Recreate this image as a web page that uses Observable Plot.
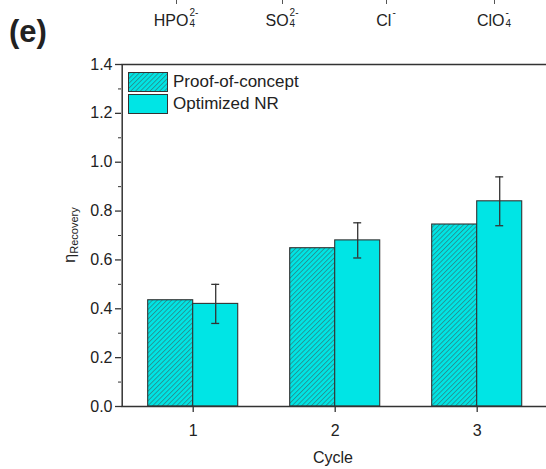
<!DOCTYPE html>
<html><head><meta charset="utf-8">
<script src="https://cdn.jsdelivr.net/npm/d3@7"></script>
<script src="https://cdn.jsdelivr.net/npm/@observablehq/plot@0.6"></script>
<style>
body{margin:0;background:#fff;font-family:Arial,"Liberation Sans",sans-serif;color:#222;}
#wrap{position:relative;width:546px;height:469px;overflow:hidden;}
#chart{position:absolute;left:0;top:0;}
.abs{position:absolute;white-space:nowrap;}
.chem{position:absolute;top:7px;font-size:16px;transform:translateX(-50%);display:flex;align-items:flex-start;line-height:1;}
.chem .base{padding-top:6px;}
.chem .st{display:inline-flex;flex-direction:column;font-size:10px;line-height:11px;margin-left:1px;}
.tk{position:absolute;top:0;width:1px;height:4px;background:#555;}
.leg{position:absolute;left:128px;width:38px;height:18px;border:1.2px solid #333;}
.legt{position:absolute;left:173px;font-size:17px;line-height:20px;}
</style></head><body>
<svg width="0" height="0" style="position:absolute">
<defs>
<pattern id="hatch" patternUnits="userSpaceOnUse" width="3.4" height="3.4" patternTransform="rotate(45)">
<rect width="3.4" height="3.4" fill="#00e5e5"/>
<line x1="0.5" y1="0" x2="0.5" y2="3.4" stroke="#2a7f7f" stroke-width="0.75"/>
</pattern>
</defs>
</svg>
<div id="wrap"></div>
<script>
const cycles = [1, 2, 3];
const proofOfConcept = [0.435, 0.648, 0.745];
const optimizedNR = [0.42, 0.68, 0.84];
const optimizedErr = [0.08, 0.072, 0.1];
const yTicks = [0, 0.2, 0.4, 0.6, 0.8, 1.0, 1.2, 1.4];
const yMinorTicks = [0.1, 0.3, 0.5, 0.7, 0.9, 1.1, 1.3];
const seriesNames = ["Proof-of-concept", "Optimized NR"];
const ionBases = ["HPO", "SO", "Cl", "ClO"];
const ionSup = ["2-", "2-", "-", "-"];
const ionSub = ["4", "4", "", "4"];

const rows = cycles.map((c, i) => ({cycle: c, proof: proofOfConcept[i], opt: optimizedNR[i], err: optimizedErr[i]}));
const bw = 0.317;
const cap = 0.028;
const ink = "#333";

const chart = Plot.plot({
  width: 546, height: 469,
  marginTop: 64, marginBottom: 63, marginLeft: 121, marginRight: 0,
  x: {domain: [0.5, 3.5], range: [121.7, 547.7]},
  y: {domain: [0, 1.4], range: [406, 64]},
  style: {fontFamily: "Arial, 'Liberation Sans', sans-serif", fontSize: "16px", color: "#222", background: "white"},
  marks: [
    Plot.rectY(rows, {x1: d => d.cycle - bw, x2: d => d.cycle, y1: 0, y2: "proof", fill: "url(#hatch)", stroke: ink, strokeWidth: 1.1}),
    Plot.rectY(rows, {x1: d => d.cycle, x2: d => d.cycle + bw, y1: 0, y2: "opt", fill: "#00e5e5", stroke: ink, strokeWidth: 1.1}),
    Plot.ruleX(rows, {x: d => d.cycle + bw / 2, y1: d => d.opt - d.err, y2: d => d.opt + d.err, stroke: ink, strokeWidth: 1.3}),
    Plot.ruleY(rows, {y: d => d.opt + d.err, x1: d => d.cycle + bw / 2 - cap, x2: d => d.cycle + bw / 2 + cap, stroke: ink, strokeWidth: 1.3}),
    Plot.ruleY(rows, {y: d => d.opt - d.err, x1: d => d.cycle + bw / 2 - cap, x2: d => d.cycle + bw / 2 + cap, stroke: ink, strokeWidth: 1.3}),
    Plot.ruleY([0], {stroke: ink, strokeWidth: 1.5}),
    Plot.ruleY([1.4], {stroke: ink, strokeWidth: 1.5}),
    Plot.ruleX([0.5], {stroke: ink, strokeWidth: 1.5}),
    Plot.axisY({ticks: yTicks, tickFormat: d3.format(".1f"), tickSize: 6, tickPadding: 3, label: null, stroke: ink, strokeWidth: 1.3}),
    Plot.axisY({ticks: yMinorTicks, tickFormat: () => "", tickSize: 3, label: null, stroke: ink}),
    Plot.axisX({ticks: cycles, tickFormat: d3.format("d"), tickSize: 6, tickPadding: 12, label: null, stroke: ink, strokeWidth: 1.3})
  ]
});
chart.id = "chart";
const wrap = document.getElementById("wrap");
wrap.appendChild(chart);

function add(html) { wrap.insertAdjacentHTML("beforeend", html); }

// panel label
add(`<div class="abs" style="left:9px;top:14px;font-size:31px;font-weight:bold;">(e)</div>`);

// ion labels from panel above
const ionX = [176, 282, 386, 494];
ionBases.forEach((b, i) => {
  add(`<div class="tk" style="left:${ionX[i]}px"></div>`);
  add(`<div class="chem" style="left:${ionX[i]}px"><span class="base">${b}</span><span class="st"><span>${ionSup[i]}</span><span>${ionSub[i] || "&nbsp;"}</span></span></div>`);
});

// legend
add(`<div class="leg" style="top:72px;"><svg width="38" height="18" style="display:block"><rect width="38" height="18" fill="url(#hatch)"/></svg></div>`);
add(`<div class="leg" style="top:94px;background:#00e5e5;"></div>`);
add(`<div class="legt" style="top:72px;">${seriesNames[0]}</div>`);
add(`<div class="legt" style="top:94px;">${seriesNames[1]}</div>`);

// axis titles
add(`<div class="abs" style="left:313px;top:449px;font-size:16px;">Cycle</div>`);
add(`<div class="abs" style="left:70px;top:235px;font-size:16px;transform:translate(-50%,-50%) rotate(-90deg);">η<span style="font-size:11px;vertical-align:-3px;">Recovery</span></div>`);
</script>
</body></html>
